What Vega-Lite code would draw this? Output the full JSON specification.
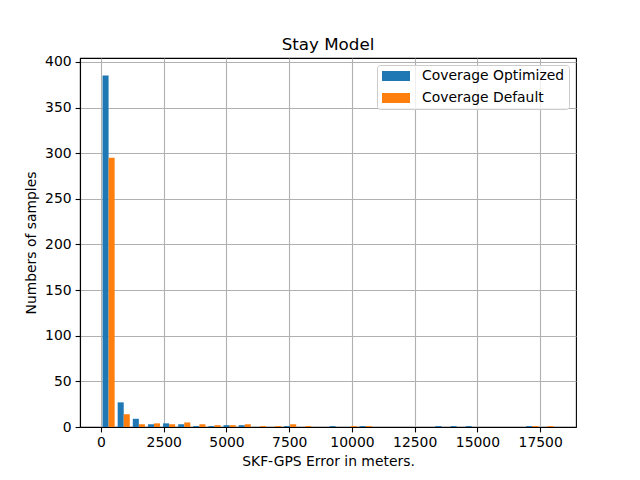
{
  "$schema": "https://vega.github.io/schema/vega-lite/v6.json",
  "width": 496,
  "height": 369,
  "autosize": {"type": "none"},
  "padding": {"left": 80, "top": 58, "right": 64, "bottom": 53},
  "background": "white",
  "title": {
    "text": "Stay Model",
    "font": "DejaVu Sans",
    "fontSize": 16.7,
    "fontWeight": "normal",
    "color": "black",
    "anchor": "middle",
    "frame": "group",
    "baseline": "alphabetic",
    "offset": -12
  },
  "config": {
    "view": {"stroke": "black", "strokeWidth": 1.1},
    "axis": {
      "labelFont": "DejaVu Sans",
      "labelFontSize": 13.9,
      "labelColor": "black",
      "titleFont": "DejaVu Sans",
      "titleFontSize": 13.9,
      "titleFontWeight": "normal",
      "titleColor": "black",
      "tickColor": "black",
      "tickSize": 4.9,
      "tickWidth": 1.1,
      "domainColor": "black",
      "domainWidth": 1.1,
      "labelPadding": 4,
      "gridColor": "#b0b0b0",
      "gridWidth": 1.1,
      "grid": true,
      "zindex": 1
    },
    "legend": {
      "labelFont": "DejaVu Sans",
      "labelFontSize": 13.9,
      "labelColor": "black"
    }
  },
  "data": {
    "values": [
      {"bin_start": 0, "bin_end": 603, "series": "Coverage Optimized", "count": 385},
      {"bin_start": 603, "bin_end": 1206, "series": "Coverage Optimized", "count": 27},
      {"bin_start": 1206, "bin_end": 1809, "series": "Coverage Optimized", "count": 9},
      {"bin_start": 1809, "bin_end": 2412, "series": "Coverage Optimized", "count": 3},
      {"bin_start": 2412, "bin_end": 3015, "series": "Coverage Optimized", "count": 4},
      {"bin_start": 3015, "bin_end": 3618, "series": "Coverage Optimized", "count": 3},
      {"bin_start": 3618, "bin_end": 4221, "series": "Coverage Optimized", "count": 1},
      {"bin_start": 4221, "bin_end": 4824, "series": "Coverage Optimized", "count": 1},
      {"bin_start": 4824, "bin_end": 5427, "series": "Coverage Optimized", "count": 2},
      {"bin_start": 5427, "bin_end": 6030, "series": "Coverage Optimized", "count": 2},
      {"bin_start": 7236, "bin_end": 7839, "series": "Coverage Optimized", "count": 1},
      {"bin_start": 9045, "bin_end": 9648, "series": "Coverage Optimized", "count": 1},
      {"bin_start": 10251, "bin_end": 10854, "series": "Coverage Optimized", "count": 1},
      {"bin_start": 13266, "bin_end": 13869, "series": "Coverage Optimized", "count": 1},
      {"bin_start": 13869, "bin_end": 14472, "series": "Coverage Optimized", "count": 1},
      {"bin_start": 14472, "bin_end": 15075, "series": "Coverage Optimized", "count": 1},
      {"bin_start": 16884, "bin_end": 17487, "series": "Coverage Optimized", "count": 1},
      {"bin_start": 0, "bin_end": 603, "series": "Coverage Default", "count": 295},
      {"bin_start": 603, "bin_end": 1206, "series": "Coverage Default", "count": 14},
      {"bin_start": 1206, "bin_end": 1809, "series": "Coverage Default", "count": 3},
      {"bin_start": 1809, "bin_end": 2412, "series": "Coverage Default", "count": 4},
      {"bin_start": 2412, "bin_end": 3015, "series": "Coverage Default", "count": 3},
      {"bin_start": 3015, "bin_end": 3618, "series": "Coverage Default", "count": 5},
      {"bin_start": 3618, "bin_end": 4221, "series": "Coverage Default", "count": 3},
      {"bin_start": 4221, "bin_end": 4824, "series": "Coverage Default", "count": 2},
      {"bin_start": 4824, "bin_end": 5427, "series": "Coverage Default", "count": 2},
      {"bin_start": 5427, "bin_end": 6030, "series": "Coverage Default", "count": 3},
      {"bin_start": 6030, "bin_end": 6633, "series": "Coverage Default", "count": 1},
      {"bin_start": 6633, "bin_end": 7236, "series": "Coverage Default", "count": 1},
      {"bin_start": 7236, "bin_end": 7839, "series": "Coverage Default", "count": 3},
      {"bin_start": 7839, "bin_end": 8442, "series": "Coverage Default", "count": 1},
      {"bin_start": 9648, "bin_end": 10251, "series": "Coverage Default", "count": 1},
      {"bin_start": 10251, "bin_end": 10854, "series": "Coverage Default", "count": 1},
      {"bin_start": 16884, "bin_end": 17487, "series": "Coverage Default", "count": 1},
      {"bin_start": 17487, "bin_end": 18090, "series": "Coverage Default", "count": 1}
    ]
  },
  "encoding": {
    "x": {
      "field": "bin_start",
      "type": "quantitative",
      "scale": {"domain": [-838, 18928], "nice": false, "zero": false, "padding": 0},
      "axis": {
        "title": "SKF-GPS Error in meters.",
        "values": [0, 2500, 5000, 7500, 10000, 12500, 15000, 17500],
        "format": "d",
        "labelFlush": false,
        "titlePadding": 5
      }
    },
    "x2": {"field": "bin_end"},
    "y": {
      "field": "count",
      "type": "quantitative",
      "scale": {"domain": [0, 404.25], "nice": false, "padding": 0},
      "axis": {
        "title": "Numbers of samples",
        "values": [0, 50, 100, 150, 200, 250, 300, 350, 400],
        "titlePadding": 6
      }
    },
    "y2": {"datum": 0},
    "color": {
      "field": "series",
      "type": "nominal",
      "scale": {
        "domain": ["Coverage Optimized", "Coverage Default"],
        "range": ["#1f77b4", "#ff7f0e"]
      },
      "legend": {
        "title": null,
        "orient": "none",
        "legendX": 297,
        "legendY": 7,
        "symbolType": "M-2,-0.714H2V0.714H-2Z",
        "symbolSize": 196,
        "symbolStrokeWidth": 0,
        "symbolOpacity": 1,
        "symbolOffset": 8,
        "labelOffset": 19,
        "padding": 4,
        "rowPadding": 8,
        "cornerRadius": 3,
        "strokeColor": "#cccccc",
        "fillColor": "rgba(255,255,255,0.8)"
      }
    }
  },
  "layer": [
    {
      "transform": [{"filter": "datum.series === 'Coverage Optimized'"}],
      "mark": {"type": "bar", "xOffset": 1.51, "x2Offset": -7.57, "cornerRadius": 0}
    },
    {
      "transform": [{"filter": "datum.series === 'Coverage Default'"}],
      "mark": {"type": "bar", "xOffset": 7.57, "x2Offset": -1.51, "cornerRadius": 0}
    }
  ]
}
